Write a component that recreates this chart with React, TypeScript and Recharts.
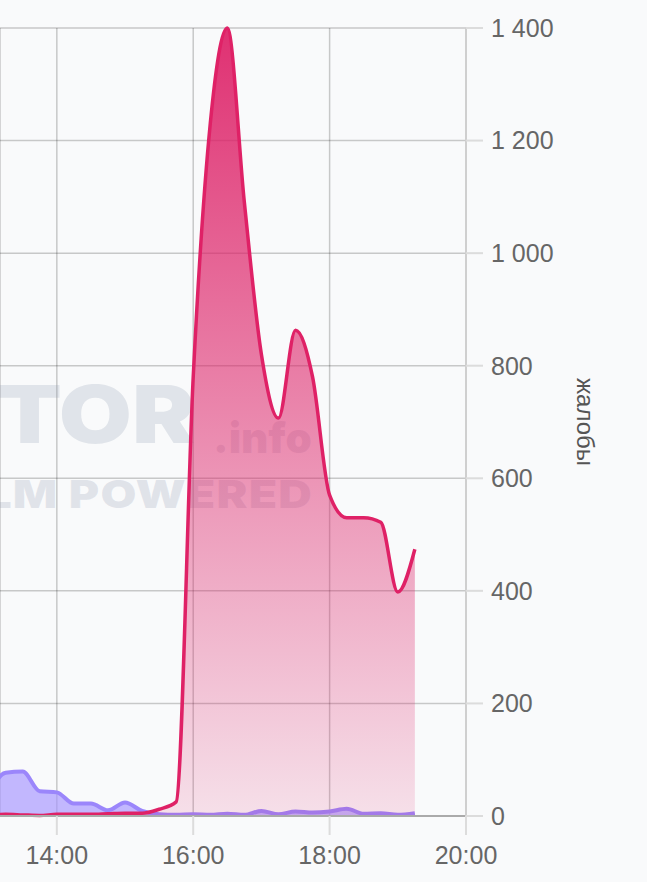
import { Area, AreaChart, CartesianGrid, XAxis, YAxis } from 'recharts'

const times = [
  '13:00', '13:15', '13:30', '13:45', '14:00', '14:15', '14:30', '14:45',
  '15:00', '15:15', '15:30', '15:45', '16:00', '16:15', '16:30', '16:45',
  '17:00', '17:15', '17:30', '17:45', '18:00', '18:15', '18:30', '18:45',
  '19:00', '19:15',
]
const complaints = [
  2, 3, 2, 1, 3, 3, 3, 4,
  5, 5, 12, 25, 780, 1230, 1400, 1090,
  820, 707, 863, 780, 570, 530, 530, 522,
  398, 474,
]
const baseline = [
  40, 77, 79, 44, 42, 22, 22, 10,
  24, 9, 3, 2, 3, 2, 4, 2,
  9, 3, 8, 6, 8, 13, 4, 5,
  2, 5,
]
const xTicks = ['14:00', '16:00', '18:00', '20:00']
const yTicks = [0, 200, 400, 600, 800, 1000, 1200, 1400]

const toMin = (s: string) => {
  const [h, m] = s.split(':').map(Number)
  return h * 60 + m
}

const data = times.map((t, i) => ({ t: toMin(t), main: complaints[i], base: baseline[i] }))

const fmtY = (v: number) => (v >= 1000 ? `${Math.floor(v / 1000)} ${String(v % 1000).padStart(3, '0')}` : String(v))
const fmtX = (v: number) => `${Math.floor(v / 60)}:00`

const tickFont = { fill: '#666', fontSize: 25, fontFamily: '"Liberation Sans", Arial, sans-serif' }
const markFont = 'Inter, "Open Sans", sans-serif'

function YLabel({ viewBox }: any) {
  const cx = viewBox.x + 119
  const cy = viewBox.y + viewBox.height / 2
  return (
    <text
      x={cx}
      y={cy}
      transform={`rotate(90 ${cx} ${cy})`}
      textAnchor="middle"
      dominantBaseline="central"
      fill="#555"
      fontSize={24}
      fontFamily='"Liberation Sans", Arial, sans-serif'
    >
      жалобы
    </text>
  )
}

export default function App() {
  return (
    <div style={{ position: 'absolute', left: 0, top: 0, width: 647, height: 882, background: '#f9fafb' }}>
      <AreaChart width={647} height={882} data={data} margin={{ top: 28, right: 0, bottom: 0, left: 0 }}>
        <defs>
          <linearGradient id="pinkFill" x1="0" y1="0" x2="0" y2="1">
            <stop offset="0%" stopColor="#dd1f66" stopOpacity={0.92} />
            <stop offset="100%" stopColor="#dd1f66" stopOpacity={0.12} />
          </linearGradient>
        </defs>
        <CartesianGrid stroke="#000" strokeOpacity={0.2} strokeWidth={1.5} />
        {/* watermark, cut at the left edge like the source */}
        <g fill="#8a94ad" fillOpacity={0.22} fontWeight={900} fontFamily={markFont}>
          <text transform="translate(195 443) scale(1.18 1)" textAnchor="end" fontSize={80}>
            DETECTOR
          </text>
          <text transform="translate(213 453)" fontSize={42}>
            .info
          </text>
          <text transform="translate(313 508) scale(1.22 1)" textAnchor="end" fontSize={38} letterSpacing={1}>
            LLM POWERED
          </text>
        </g>
        <XAxis
          dataKey="t"
          type="number"
          domain={[790, 1200]}
          allowDataOverflow
          ticks={xTicks.map(toMin)}
          tickFormatter={fmtX}
          height={66}
          tickSize={19}
          tickMargin={11}
          tick={tickFont}
          axisLine={{ stroke: '#aaa', strokeWidth: 2 }}
          tickLine={{ stroke: '#dcdcdc', strokeWidth: 2 }}
        />
        <YAxis
          orientation="right"
          width={181}
          domain={[0, 1400]}
          ticks={yTicks}
          tickFormatter={fmtY}
          tickSize={17}
          tickMargin={8}
          tick={tickFont}
          axisLine={{ stroke: '#cfcfcf', strokeWidth: 2 }}
          tickLine={{ stroke: '#dcdcdc', strokeWidth: 2 }}
          label={<YLabel />}
        />
        <Area
          type="monotone"
          dataKey="base"
          stroke="#9b86fb"
          strokeWidth={4}
          fill="#a593ff"
          fillOpacity={0.65}
          isAnimationActive={false}
          dot={false}
          activeDot={false}
        />
        <Area
          type="monotone"
          dataKey="main"
          stroke="#df2166"
          strokeWidth={3.5}
          fill="url(#pinkFill)"
          fillOpacity={1}
          isAnimationActive={false}
          dot={false}
          activeDot={false}
        />
      </AreaChart>
    </div>
  )
}
